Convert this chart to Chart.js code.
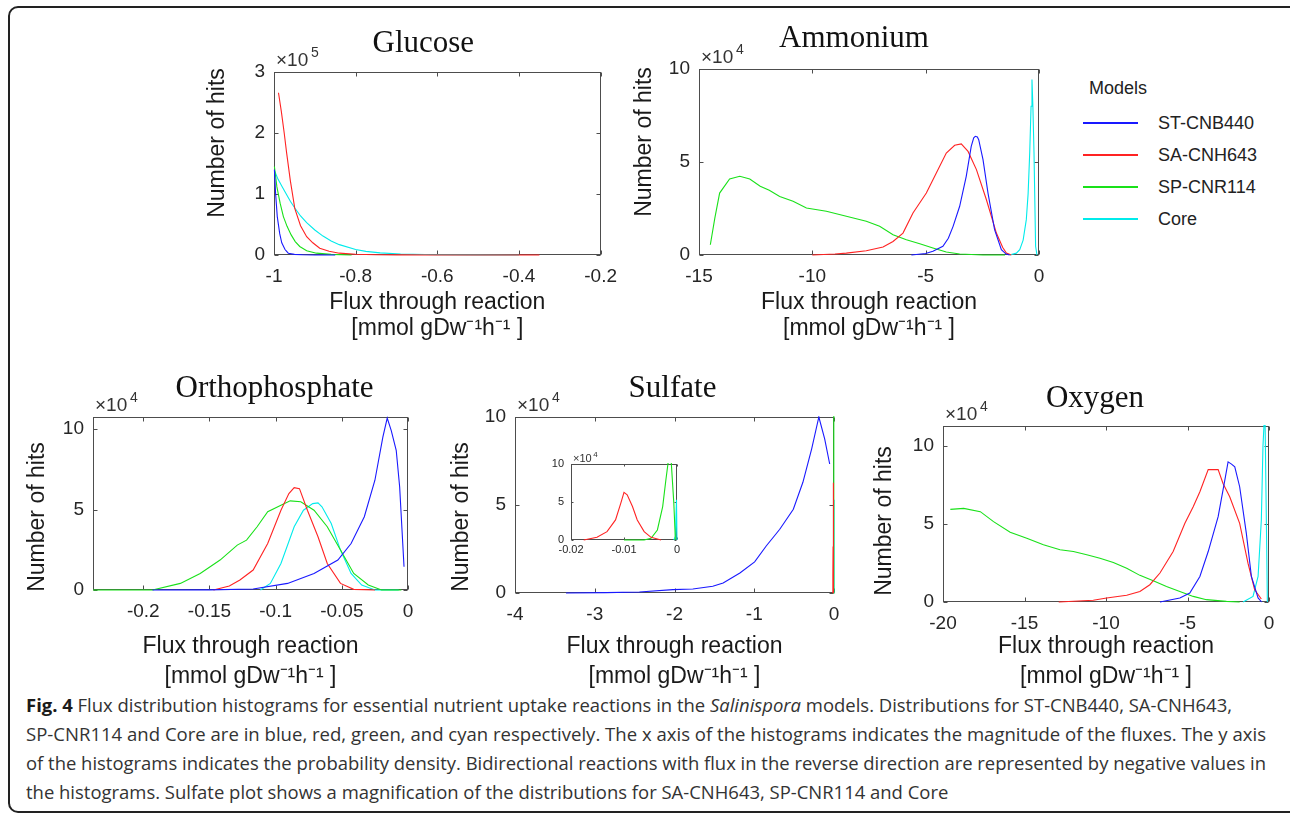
<!DOCTYPE html>
<html>
<head>
<meta charset="utf-8">
<script src="https://cdn.jsdelivr.net/npm/chart.js@4.4.1/dist/chart.umd.min.js"></script>
<style>
  body { margin: 0; background: #fff; width: 1290px; height: 814px; overflow: hidden; position: relative;
         font-family: "Liberation Sans", Arial, sans-serif; }
  .frame { position: absolute; left: 8px; top: 6px; width: 1320px; height: 803px;
           border: 2px solid #222; border-radius: 10px; }
  .panel { position: absolute; }
  #legend { position: absolute; left: 1083px; top: 78px; color: #222; font-size: 18px; }
  #legend .head { position: absolute; left: 6px; top: 0; white-space: nowrap; }
  #legend .row { position: absolute; left: 0; height: 24px; white-space: nowrap; }
  #legend .swatch { position: absolute; left: 0; top: 11px; width: 55px; height: 2px; }
  #legend .lbl { position: absolute; left: 75px; top: 0; line-height: 24px; }
  .cap { position: absolute; left: 26px; white-space: nowrap; font-family: "Open Sans", sans-serif;
         font-size: 18px; line-height: 29px; color: #333; transform-origin: 0 50%; }
  .cap b { color: #1a1a1a; }
</style>
</head>
<body>
<div class="frame"></div>
<div id="legend"></div>

<div class="cap" style="top:691px" data-w="1206"><b>Fig. 4</b> Flux distribution histograms for essential nutrient uptake reactions in the <i>Salinispora</i> models. Distributions for ST-CNB440, SA-CNH643,</div>
<div class="cap" style="top:720px" data-w="1240">SP-CNR114 and Core are in blue, red, green, and cyan respectively. The x axis of the histograms indicates the magnitude of the fluxes. The y axis</div>
<div class="cap" style="top:749px" data-w="1240">of the histograms indicates the probability density. Bidirectional reactions with flux in the reverse direction are represented by negative values in</div>
<div class="cap" style="top:778px">the histograms. Sulfate plot shows a magnification of the distributions for SA-CNH643, SP-CNR114 and Core</div>

<script>
// models
const modelNames = ['ST-CNB440', 'SA-CNH643', 'SP-CNR114', 'Core'];
const modelColors = ['rgb(25,25,255)', 'rgb(255,35,35)', 'rgb(25,225,25)', 'rgb(0,235,235)'];

// Glucose (x10^5 hits)
const gluXTicks = [-1, -0.8, -0.6, -0.4, -0.2];
const gluYTicks = [0, 1, 2, 3];
const gluBlueX = [-0.999, -0.996, -0.992, -0.986, -0.981, -0.973, -0.965, -0.95, -0.93, -0.9, -0.85];
const gluBlueY = [1.40, 1.00, 0.63, 0.35, 0.20, 0.09, 0.03, 0.01, 0.003, 0, 0];
const gluRedX = [-0.989, -0.982, -0.975, -0.969, -0.96, -0.949, -0.935, -0.92, -0.905, -0.888, -0.865, -0.84, -0.8, -0.75, -0.7, -0.6, -0.5, -0.4, -0.35];
const gluRedY = [2.66, 2.35, 2.0, 1.67, 1.22, 0.76, 0.48, 0.30, 0.20, 0.11, 0.06, 0.03, 0.012, 0.005, 0.002, 0.001, 0.0005, 0.0003, 0];
const gluGreenX = [-0.999, -0.993, -0.985, -0.977, -0.968, -0.958, -0.948, -0.937, -0.92, -0.896, -0.86, -0.81];
const gluGreenY = [1.45, 1.12, 0.85, 0.63, 0.47, 0.33, 0.22, 0.14, 0.07, 0.03, 0.01, 0];
const gluCyanX = [-0.998, -0.99, -0.98, -0.97, -0.96, -0.949, -0.935, -0.92, -0.9, -0.88, -0.86, -0.84, -0.8, -0.775, -0.74, -0.69, -0.6, -0.5, -0.4];
const gluCyanY = [1.37, 1.24, 1.12, 1.00, 0.88, 0.77, 0.64, 0.53, 0.41, 0.31, 0.23, 0.17, 0.09, 0.06, 0.035, 0.016, 0.005, 0.002, 0];

// Ammonium (x10^4 hits)
const ammXTicks = [-15, -10, -5, 0];
const ammYTicks = [0, 5, 10];
const ammBlueX = [-5.63, -5.0, -4.68, -4.24, -4.0, -3.79, -3.5, -3.21, -2.99, -2.88, -2.81, -2.72, -2.66, -2.47, -2.25, -1.96, -1.66, -1.45, -1.3];
const ammBlueY = [0, 0.08, 0.2, 0.47, 0.9, 1.54, 2.62, 4.23, 5.84, 6.3, 6.38, 6.35, 6.2, 5.13, 3.33, 1.36, 0.29, 0.05, 0];
const ammRedX = [-10, -9, -8.5, -7.62, -6.88, -6.44, -6.0, -5.56, -4.97, -4.53, -4.09, -3.72, -3.43, -3.13, -2.76, -2.32, -1.88, -1.6, -1.44, -1.22];
const ammRedY = [0, 0.05, 0.1, 0.23, 0.43, 0.73, 1.18, 2.26, 3.33, 4.41, 5.48, 5.9, 5.97, 5.57, 4.59, 2.97, 1.18, 0.4, 0.1, 0];
const ammGreenX = [-14.5, -14.3, -14.09, -13.65, -13.2, -12.76, -12.3, -11.9, -11.44, -10.85, -10.26, -9.38, -8.5, -7.62, -7.03, -6.44, -5.85, -5.26, -4.68, -4.09, -3.5, -2.47, -1.5];
const ammGreenY = [0.55, 2.0, 3.33, 4.09, 4.23, 4.09, 3.7, 3.48, 3.15, 2.89, 2.53, 2.35, 2.08, 1.81, 1.54, 1.09, 0.82, 0.61, 0.38, 0.16, 0.05, 0, 0];
const ammCyanX = [-1.3, -1.0, -0.85, -0.7, -0.56, -0.48, -0.41, -0.35, -0.31, -0.27, -0.22, -0.15, -0.09];
const ammCyanY = [0, 0.1, 0.29, 0.8, 1.9, 3.3, 5.48, 8.0, 9.43, 8.0, 5.48, 0.47, 0];

// Orthophosphate (x10^4 hits)
const orthoXTicks = [-0.2, -0.15, -0.1, -0.05, 0];
const orthoYTicks = [0, 5, 10];
const orthoBlueX = [-0.193, -0.15, -0.117, -0.091, -0.071, -0.053, -0.043, -0.033, -0.025, -0.019, -0.0157, -0.0127, -0.0089, -0.0063, -0.003];
const orthoBlueY = [0, 0.01, 0.06, 0.41, 1.03, 1.86, 2.89, 4.55, 6.82, 9.5, 10.68, 9.92, 8.68, 6.4, 1.45];
const orthoRedX = [-0.147, -0.135, -0.127, -0.117, -0.106, -0.096, -0.09, -0.086, -0.082, -0.076, -0.068, -0.061, -0.051, -0.041, -0.025];
const orthoRedY = [0, 0.25, 0.62, 1.24, 2.89, 4.96, 5.99, 6.36, 6.3, 4.96, 3.31, 1.65, 0.41, 0.04, 0];
const orthoGreenX = [-0.238, -0.193, -0.172, -0.157, -0.142, -0.129, -0.122, -0.114, -0.106, -0.096, -0.089, -0.081, -0.071, -0.061, -0.051, -0.041, -0.03, -0.02, -0.005];
const orthoGreenY = [0, 0, 0.41, 1.03, 1.86, 2.79, 3.1, 3.93, 4.86, 5.27, 5.54, 5.48, 4.96, 3.93, 2.48, 1.03, 0.31, 0, 0];
const orthoCyanX = [-0.1115, -0.104, -0.096, -0.086, -0.079, -0.072, -0.068, -0.065, -0.058, -0.051, -0.043, -0.035, -0.025, -0.007];
const orthoCyanY = [0, 0.41, 1.65, 3.93, 4.96, 5.37, 5.41, 5.17, 4.13, 2.48, 1.03, 0.31, 0, 0];

// Sulfate (x10^4 hits), inset shares the red/green/cyan series
const sulfXTicks = [-4, -3, -2, -1, 0];
const sulfYTicks = [0, 5, 10];
const insetXTicks = [-0.02, -0.01, 0];
const insetYTicks = [0, 5, 10];
const sulfBlueX = [-3.36, -2.86, -2.44, -2.02, -1.77, -1.52, -1.39, -1.18, -0.995, -0.85, -0.68, -0.51, -0.39, -0.28, -0.19, -0.117, -0.054];
const sulfBlueY = [0, 0.02, 0.06, 0.19, 0.23, 0.38, 0.57, 1.14, 1.77, 2.67, 3.62, 4.76, 6.29, 8.19, 10.0, 8.76, 7.33];
const sulfRedX = [-0.0176, -0.0151, -0.0132, -0.0116, -0.0106, -0.01, -0.0094, -0.0084, -0.0075, -0.0062, -0.0049, -0.003];
const sulfRedY = [0, 0.35, 1.1, 2.64, 4.85, 6.26, 5.95, 4.4, 2.64, 1.1, 0.35, 0];
const sulfGreenX = [-0.01, -0.0062, -0.0049, -0.0037, -0.0027, -0.0021, -0.0016, -0.0013, -0.0011, -0.0006, -0.0003];
const sulfGreenY = [0, 0, 0.22, 1.32, 4.4, 7.9, 10.6, 11.2, 10.4, 4.85, 0];
const sulfCyanX = [-0.0006, -0.0003, -0.0001, 0];
const sulfCyanY = [0, 0.5, 5.3, 0];

// Oxygen (x10^4 hits)
const oxyXTicks = [-20, -15, -10, -5, 0];
const oxyYTicks = [0, 5, 10];
const oxyBlueX = [-6.69, -5.47, -4.86, -4.24, -3.73, -3.12, -2.71, -2.51, -2.3, -2.1, -1.8, -1.39, -1.08, -0.67, -0.45];
const oxyBlueY = [0, 0.26, 0.58, 1.64, 3.24, 5.48, 7.82, 9.0, 8.85, 8.68, 7.4, 4.41, 1.64, 0.26, 0];
const oxyRedX = [-12.9, -10.78, -9.96, -8.73, -7.92, -7.31, -6.69, -5.88, -5.16, -4.65, -4.24, -3.73, -3.12, -2.82, -2.41, -1.8, -1.29, -0.88, -0.47];
const oxyRedY = [0, 0.11, 0.26, 0.43, 0.68, 1.11, 1.86, 3.24, 5.05, 6.12, 7.08, 8.5, 8.5, 7.61, 6.76, 5.05, 2.49, 0.79, 0.19];
const oxyGreenX = [-19.55, -18.73, -17.71, -16.9, -15.88, -14.86, -13.84, -12.82, -12.0, -11.18, -10.37, -9.55, -8.73, -7.92, -7.1, -6.29, -5.47, -4.65, -3.84, -2.61, -1.8];
const oxyGreenY = [5.95, 6.01, 5.8, 5.16, 4.48, 4.09, 3.67, 3.35, 3.24, 3.03, 2.81, 2.54, 2.17, 1.71, 1.36, 1.0, 0.68, 0.36, 0.15, 0.04, 0];
const oxyCyanX = [-1.59, -0.98, -0.67, -0.47, -0.37, -0.3, -0.24, -0.16, -0.1];
const oxyCyanY = [0, 0.36, 1.64, 5.27, 10.0, 11.5, 11.5, 5.05, 0];

const xTitleLines = ['Flux through reaction', '[mmol gDw\u207B\u00B9h\u207B\u00B9 ]'];
const SANS = '"Liberation Sans", Arial, Helvetica, sans-serif';

// MATLAB-like box with inward ticks (under the curves), then panel title, x10^n and y label
const panelDecor = {
  id: 'panelDecor',
  beforeDatasetsDraw(chart, args, o) {
    const { ctx, chartArea: a, scales: { x, y } } = chart;
    ctx.save();
    ctx.strokeStyle = '#4d4d4d';
    ctx.lineWidth = 1;
    const l = Math.round(a.left) + 0.5, r = Math.round(a.right) - 0.5;
    const t = Math.round(a.top) + 0.5, b = Math.round(a.bottom) - 0.5;
    ctx.strokeRect(l, t, r - l, b - t);
    ctx.beginPath();
    x.ticks.forEach(tk => {
      const px = Math.round(x.getPixelForValue(tk.value)) + 0.5;
      ctx.moveTo(px, b); ctx.lineTo(px, b - o.tick);
      ctx.moveTo(px, t); ctx.lineTo(px, t + o.tick);
    });
    y.ticks.forEach(tk => {
      const py = Math.round(y.getPixelForValue(tk.value)) + 0.5;
      ctx.moveTo(l, py); ctx.lineTo(l + o.tick, py);
      ctx.moveTo(r, py); ctx.lineTo(r - o.tick, py);
    });
    ctx.stroke();
    ctx.restore();
  },
  afterDraw(chart, args, o) {
    const { ctx, chartArea: a } = chart;
    ctx.save();
    if (o.title) {
      ctx.fillStyle = '#111';
      ctx.font = '31px "Liberation Serif", "Times New Roman", serif';
      ctx.textAlign = 'center';
      ctx.textBaseline = 'alphabetic';
      ctx.fillText(o.title, (a.left + a.right) / 2 + o.titleDx, a.top + o.titleDy);
    }

    ctx.fillStyle = '#333';
    ctx.textAlign = 'left';
    ctx.textBaseline = 'alphabetic';
    ctx.font = o.mulSize + 'px ' + SANS;
    const mx = a.left + 2, my = a.top + o.mulDy;
    ctx.fillText('\u00D710', mx, my);
    const w = ctx.measureText('\u00D710').width;
    ctx.font = Math.round(o.mulSize * 0.72) + 'px ' + SANS;
    ctx.fillText(o.exp, mx + w + o.mulSize * 0.15, my - o.mulSize * 0.45);

    if (o.yTitle) {
      ctx.fillStyle = '#1a1a1a';
      ctx.translate(a.left + o.yTitleDx, a.top + o.yTitleDy);
      ctx.rotate(-Math.PI / 2);
      ctx.font = '23px ' + SANS;
      ctx.textAlign = 'center';
      ctx.textBaseline = 'middle';
      ctx.fillText(o.yTitle, 0, 0);
    }
    ctx.restore();
  }
};

const fmt = v => String(parseFloat(Number(v).toFixed(4)));

const panels = [
  { title: 'Glucose', exp: '5', area: [274, 72, 603, 255], xMin: -1, xMax: -0.2, yMax: 3,
    xTicks: gluXTicks, yTicks: gluYTicks,
    series: [[gluBlueX, gluBlueY, 0], [gluRedX, gluRedY, 1], [gluGreenX, gluGreenY, 2], [gluCyanX, gluCyanY, 3]],
    xH: 87, lh: 26, titleDx: -14, titleDy: -20, yTitleDy: 71, yTitleDx: -56 },
  { title: 'Ammonium', exp: '4', area: [699, 69, 1039, 255], xMin: -15, xMax: 0, yMax: 10,
    xTicks: ammXTicks, yTicks: ammYTicks,
    series: [[ammBlueX, ammBlueY, 0], [ammRedX, ammRedY, 1], [ammGreenX, ammGreenY, 2], [ammCyanX, ammCyanY, 3]],
    xH: 87, lh: 26, titleDx: -15, titleDy: -22, yTitleDy: 73, yTitleDx: -54 },
  { title: 'Orthophosphate', exp: '4', area: [93, 417, 408, 590], xMin: -0.238, xMax: 0, yMax: 10.75,
    xTicks: orthoXTicks, yTicks: orthoYTicks,
    series: [[orthoBlueX, orthoBlueY, 0], [orthoRedX, orthoRedY, 1], [orthoGreenX, orthoGreenY, 2], [orthoCyanX, orthoCyanY, 3]],
    xH: 102, lh: 30, titleDx: 24, titleDy: -20, yTitleDy: 100, yTitleDx: -55 },
  { title: 'Sulfate', exp: '4', area: [515, 417, 834, 593], xMin: -4, xMax: 0, yMax: 10,
    xTicks: sulfXTicks, yTicks: sulfYTicks,
    series: [[sulfBlueX, sulfBlueY, 0], [sulfRedX, sulfRedY, 1], [sulfGreenX, sulfGreenY, 2], [sulfCyanX, sulfCyanY, 3]],
    xH: 99, lh: 30, titleDx: -2, titleDy: -20, yTitleDy: 100, yTitleDx: -53 },
  { title: 'Oxygen', exp: '4', area: [943, 426, 1269, 602], xMin: -20, xMax: 0, yMax: 11.3,
    xTicks: oxyXTicks, yTicks: oxyYTicks,
    series: [[oxyBlueX, oxyBlueY, 0], [oxyRedX, oxyRedY, 1], [oxyGreenX, oxyGreenY, 2], [oxyCyanX, oxyCyanY, 3]],
    xH: 90, lh: 30, titleDx: -11, titleDy: -19, yTitleDy: 95, yTitleDx: -58 },
  { inset: true, exp: '4', area: [571, 464, 677, 540], xMin: -0.02, xMax: 0, yMax: 10,
    xTicks: insetXTicks, yTicks: insetYTicks,
    series: [[sulfRedX, sulfRedY, 1], [sulfGreenX, sulfGreenY, 2], [sulfCyanX, sulfCyanY, 3]] }
];

function makePanel(p) {
  const [L, T, R, B] = p.area;
  const small = !!p.inset;
  const yW = small ? 26 : 40, padL = small ? 4 : 40, padT = small ? 16 : 58, padR = small ? 12 : 24;
  const xH = small ? 20 : p.xH;
  const box = document.createElement('div');
  box.className = 'panel';
  box.style.left = (L - padL - yW) + 'px';
  box.style.top = (T - padT) + 'px';
  box.style.width = (R - L + padL + yW + padR) + 'px';
  box.style.height = (padT + B - T + xH + 2) + 'px';
  const cv = document.createElement('canvas');
  box.appendChild(cv);
  document.body.appendChild(box);

  const tickFont = { family: SANS, size: small ? 11 : 19 };
  new Chart(cv, {
    type: 'scatter',
    data: {
      datasets: p.series.map(([xs, ys, c]) => ({
        label: modelNames[c],
        data: xs.map((v, i) => ({ x: v, y: ys[i] })),
        showLine: true,
        borderColor: modelColors[c],
        borderWidth: 1.1,
        pointRadius: 0,
        tension: 0,
        clip: 1
      }))
    },
    options: {
      responsive: true,
      maintainAspectRatio: false,
      animation: false,
      events: [],
      layout: { padding: { left: padL, top: padT, right: padR, bottom: 2 } },
      plugins: {
        legend: { display: false },
        tooltip: { enabled: false },
        panelDecor: {
          tick: small ? 2 : 4,
          title: p.title, titleDx: p.titleDx, titleDy: p.titleDy,
          exp: p.exp, mulSize: small ? 11 : 19, mulDy: small ? -2 : -6,
          yTitle: small ? null : 'Number of hits', yTitleDx: p.yTitleDx, yTitleDy: p.yTitleDy
        }
      },
      scales: {
        x: {
          type: 'linear', min: p.xMin, max: p.xMax,
          grid: { display: false, drawTicks: false },
          border: { display: false },
          afterBuildTicks: s => { s.ticks = p.xTicks.map(v => ({ value: v })); },
          afterFit: s => { s.height = xH; },
          ticks: { font: tickFont, color: '#262626', padding: small ? 3 : 10, maxRotation: 0, autoSkip: false, callback: fmt },
          title: small ? { display: false } : {
            display: true, text: xTitleLines, color: '#1a1a1a', padding: 0,
            font: { family: SANS, size: 23, lineHeight: p.lh + 'px' }
          }
        },
        y: {
          type: 'linear', min: 0, max: p.yMax,
          grid: { display: false, drawTicks: false },
          border: { display: false },
          afterBuildTicks: s => { s.ticks = p.yTicks.map(v => ({ value: v })); },
          afterFit: s => { s.width = yW; },
          ticks: { font: tickFont, color: '#262626', padding: small ? 7 : 9, autoSkip: false, callback: fmt }
        }
      }
    },
    plugins: [panelDecor]
  });
}

panels.forEach(makePanel);

// legend
const legend = document.getElementById('legend');
const head = document.createElement('div');
head.className = 'head';
head.textContent = 'Models';
legend.appendChild(head);
modelNames.forEach((name, i) => {
  const row = document.createElement('div');
  row.className = 'row';
  row.style.top = (33 + i * 32) + 'px';
  row.innerHTML = '<div class="swatch" style="background:' + modelColors[i] + '"></div><div class="lbl">' + name + '</div>';
  legend.appendChild(row);
});

// fit caption lines to the column width
const caps = document.querySelectorAll('.cap');
const base = 1206 / caps[0].getBoundingClientRect().width;
caps.forEach(el => {
  const w = el.getBoundingClientRect().width;
  const k = el.dataset.w ? el.dataset.w / w : base;
  el.style.transform = 'scaleX(' + k + ')';
});
</script>
</body>
</html>
